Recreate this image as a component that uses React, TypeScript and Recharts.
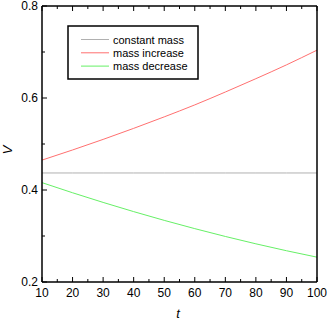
import React from 'react';
import { LineChart, Line, XAxis, YAxis } from 'recharts';

const tValues = [10, 20, 30, 40, 50, 60, 70, 80, 90, 100];
const constantMass = [0.437, 0.437, 0.437, 0.437, 0.437, 0.437, 0.437, 0.437, 0.437, 0.437];
const massIncrease = [0.465, 0.487, 0.51, 0.534, 0.559, 0.585, 0.613, 0.642, 0.672, 0.704];
const massDecrease = [0.416, 0.394, 0.373, 0.353, 0.334, 0.316, 0.299, 0.283, 0.268, 0.254];

const xTicks = [10, 15, 20, 25, 30, 35, 40, 45, 50, 55, 60, 65, 70, 75, 80, 85, 90, 95, 100];
const xLabels = [10, 20, 30, 40, 50, 60, 70, 80, 90, 100];
const yTicks = [0.2, 0.3, 0.4, 0.5, 0.6, 0.7, 0.8];
const yLabels = ['0.2', '0.4', '0.6', '0.8'];

const SERIES = [
  { key: 'constant', name: 'constant mass', color: '#b0b0b0' },
  { key: 'increase', name: 'mass increase', color: '#ff7070' },
  { key: 'decrease', name: 'mass decrease', color: '#66f066' },
];

const data = tValues.map((t, i) => ({
  t,
  constant: constantMass[i],
  increase: massIncrease[i],
  decrease: massDecrease[i],
}));

const FONT = '"Liberation Sans", Arial, sans-serif';

const XTick = ({ x, y, payload, side }: any) => {
  const major = xLabels.includes(payload.value);
  const len = major ? 5 : 3;
  if (side === 'top') {
    return <line x1={x} x2={x} y1={y} y2={y + len} stroke="#000" strokeWidth={1} />;
  }
  return (
    <g>
      <line x1={x} x2={x} y1={y} y2={y - len} stroke="#000" strokeWidth={1} />
      {major && (
        <text x={x} y={y + 15} textAnchor="middle" fontSize={12} fontFamily={FONT} fill="#000">
          {payload.value}
        </text>
      )}
    </g>
  );
};

const YTick = ({ x, y, payload, side }: any) => {
  const label = payload.value.toFixed(1);
  const major = yLabels.includes(label);
  const len = major ? 5 : 3;
  if (side === 'right') {
    return <line x1={x} x2={x - len} y1={y} y2={y} stroke="#000" strokeWidth={1} />;
  }
  return (
    <g>
      <line x1={x} x2={x + len} y1={y} y2={y} stroke="#000" strokeWidth={1} />
      {major && (
        <text x={x - 4} y={y} textAnchor="end" dominantBaseline="central" fontSize={12} fontFamily={FONT} fill="#000">
          {label}
        </text>
      )}
    </g>
  );
};

export default function App() {
  return (
    <div style={{ position: 'absolute', left: 0, top: 0, width: 328, height: 321, background: '#fff' }}>
      <LineChart width={328} height={321} data={data} margin={{ top: 0, right: 0, bottom: 0, left: 0 }}>
        <XAxis
          xAxisId="bottom"
          dataKey="t"
          type="number"
          domain={[10, 100]}
          ticks={xTicks}
          interval={0}
          height={39}
          tickSize={0}
          tickMargin={0}
          tickLine={false}
          axisLine={{ stroke: '#000', strokeWidth: 1.5 }}
          tick={<XTick side="bottom" />}
        />
        <XAxis
          xAxisId="top"
          orientation="top"
          dataKey="t"
          type="number"
          domain={[10, 100]}
          ticks={xTicks}
          interval={0}
          height={6}
          tickSize={0}
          tickMargin={0}
          tickLine={false}
          axisLine={{ stroke: '#000', strokeWidth: 1.5 }}
          tick={<XTick side="top" />}
        />
        <YAxis
          yAxisId="left"
          type="number"
          domain={[0.2, 0.8]}
          ticks={yTicks}
          interval={0}
          width={42}
          tickSize={0}
          tickMargin={0}
          tickLine={false}
          axisLine={{ stroke: '#000', strokeWidth: 1.5 }}
          tick={<YTick side="left" />}
        />
        <YAxis
          yAxisId="right"
          orientation="right"
          type="number"
          domain={[0.2, 0.8]}
          ticks={yTicks}
          interval={0}
          width={11}
          tickSize={0}
          tickMargin={0}
          tickLine={false}
          axisLine={{ stroke: '#000', strokeWidth: 1.5 }}
          tick={<YTick side="right" />}
        />
        {SERIES.map((s) => (
          <Line
            key={s.key}
            xAxisId="bottom"
            yAxisId="left"
            type="monotone"
            dataKey={s.key}
            name={s.name}
            stroke={s.color}
            strokeWidth={1}
            dot={false}
            isAnimationActive={false}
          />
        ))}
      </LineChart>
      <svg width={328} height={321} style={{ position: 'absolute', left: 0, top: 0, pointerEvents: 'none' }}>
        <text
          x={0}
          y={0}
          transform="translate(7,150) rotate(-90)"
          textAnchor="middle"
          dominantBaseline="central"
          fontSize={13}
          fontStyle="italic"
          fontFamily={FONT}
        >
          V
        </text>
        <text x={178} y={318} textAnchor="middle" fontSize={13} fontStyle="italic" fontFamily={FONT}>
          t
        </text>
        <rect x={68} y={26} width={130} height={53} fill="#fff" stroke="#000" strokeWidth={1.5} />
        {SERIES.map((s, i) => (
          <g key={s.key}>
            <line x1={81} x2={109} y1={39.5 + i * 13.3} y2={39.5 + i * 13.3} stroke={s.color} strokeWidth={1} />
            <text x={113} y={39.5 + i * 13.3} dominantBaseline="central" fontSize={11} fontFamily={FONT}>
              {s.name}
            </text>
          </g>
        ))}
      </svg>
    </div>
  );
}
